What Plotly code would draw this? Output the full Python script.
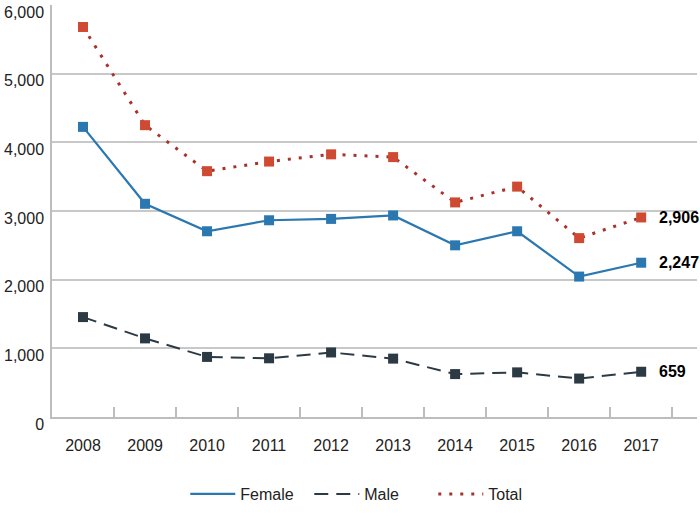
import plotly.graph_objs as go

years = ['2008', '2009', '2010', '2011', '2012', '2013', '2014', '2015', '2016', '2017']
female = [4225, 3105, 2705, 2865, 2885, 2935, 2500, 2705, 2045, 2247]
male = [1455, 1145, 875, 855, 940, 850, 625, 650, 560, 659]
total = [5680, 4250, 3580, 3720, 3825, 3785, 3125, 3355, 2605, 2906]

FONT = 'Liberation Sans, Arial, sans-serif'
C_FEMALE = '#2b78b1'
C_MALE = '#2c3a44'
C_TOTAL_LINE = '#a8322a'
C_TOTAL_MARK = '#cf4a32'
C_AXIS = '#bdbdbd'

fig = go.Figure()

# lines (shown in legend)
fig.add_trace(go.Scatter(x=years, y=female, name='Female', mode='lines',
                         line=dict(color=C_FEMALE, width=2.2)))
fig.add_trace(go.Scatter(x=years, y=male, name='Male', mode='lines',
                         line=dict(color=C_MALE, width=2, dash='14px,8px')))
fig.add_trace(go.Scatter(x=years, y=total, name='Total', mode='lines',
                         line=dict(color=C_TOTAL_LINE, width=3, dash='3px,8px')))

# markers, kept out of the legend
for ys, c in [(female, C_FEMALE), (male, C_MALE), (total, C_TOTAL_MARK)]:
    fig.add_trace(go.Scatter(x=years, y=ys, mode='markers', showlegend=False,
                             marker=dict(symbol='square', size=10, color=c)))

# end labels
for ys in [female, male, total]:
    fig.add_annotation(x=len(years) - 1, y=ys[-1], xref='x', yref='y',
                       text='<b>' + format(ys[-1], ',') + '</b>',
                       showarrow=False, xanchor='left', xshift=16,
                       font=dict(family=FONT, size=16, color='black'))

fig.update_layout(
    width=700, height=514,
    margin=dict(l=52, r=3, t=5, b=89),
    paper_bgcolor='white', plot_bgcolor='white',
    font=dict(family=FONT, size=16, color='#222222'),
    showlegend=True,
    legend=dict(orientation='h', x=0.495, xanchor='center', y=-0.187, yanchor='middle',
                entrywidth=64, itemwidth=45,
                font=dict(family=FONT, size=16, color='#222222')),
)
fig.update_xaxes(type='category', range=[-0.5, 9.9], showgrid=False, automargin=False,
                 showline=True, linecolor=C_AXIS, linewidth=1.5,
                 ticks='inside', tickson='boundaries', ticklen=10,
                 tickcolor=C_AXIS, tickwidth=1.5, ticklabelstandoff=13)
fig.update_yaxes(range=[0, 6000], tickvals=[0, 1000, 2000, 3000, 4000, 5000, 6000],
                 tickformat=',', showgrid=True, gridcolor='#c8c8c8', gridwidth=1.5,
                 showline=True, linecolor=C_AXIS, linewidth=1.5, automargin=False,
                 zeroline=False, ticks='', ticklabelstandoff=3, ticklabelshift=7,
                 ticklabeloverflow='allow')

# drop the default body margin so the 700x514 figure fills the window
fig.write_html("out.html", config={'displayModeBar': False},
               post_script="document.body.style.margin = '0';")
